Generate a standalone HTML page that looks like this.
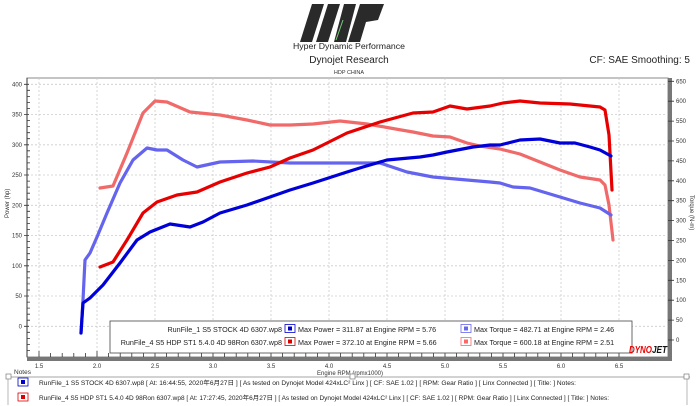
<!DOCTYPE html>
<html><head><meta charset="utf-8">
<style>
html,body{margin:0;padding:0;background:#fff;width:700px;height:406px;overflow:hidden;font-family:"Liberation Sans","Noto Sans CJK SC",sans-serif}
</style></head><body>
<svg width="700" height="406" viewBox="0 0 700 406" xmlns="http://www.w3.org/2000/svg" font-family="Liberation Sans, Noto Sans CJK SC, sans-serif">
<!-- logo -->
<g fill="#2a2a2a">
<polygon points="312,4 324,4 312,42 300,42"/>
<polygon points="328,4 340,4 328,42 316,42"/>
<polygon points="344,4 356,4 346,42 334,42"/>
<polygon points="360,4 384,4 378,20 366,22 360,42 348,42"/>
</g>
<line x1="343" y1="20" x2="336" y2="40" stroke="#7c7" stroke-width="1"/>
<text x="349" y="49" font-size="8" text-anchor="middle" fill="#222" textLength="112" lengthAdjust="spacingAndGlyphs">Hyper Dynamic Performance</text>
<text x="349" y="63" font-size="10" text-anchor="middle" fill="#222">Dynojet Research</text>
<text x="349" y="74" font-size="5.5" text-anchor="middle" fill="#333">HDP CHINA</text>
<text x="690" y="63" font-size="10" text-anchor="end" fill="#222">CF: SAE Smoothing: 5</text>

<!-- plot frame -->
<rect x="27" y="78" width="641" height="279" fill="#fff" stroke="#888" stroke-width="1"/>
<rect x="27" y="357" width="645" height="4" fill="#777"/>
<rect x="668" y="78" width="4" height="283" fill="#777"/>
<line x1="27" y1="78" x2="27" y2="357" stroke="#333" stroke-width="1"/>
<!-- grid -->
<g stroke="#ccc" stroke-width="0.8" stroke-dasharray="2,2">
<line x1="39" y1="78" x2="39" y2="357"/><line x1="97" y1="78" x2="97" y2="357"/><line x1="155" y1="78" x2="155" y2="357"/><line x1="213" y1="78" x2="213" y2="357"/><line x1="271" y1="78" x2="271" y2="357"/><line x1="329" y1="78" x2="329" y2="357"/><line x1="387" y1="78" x2="387" y2="357"/><line x1="445" y1="78" x2="445" y2="357"/><line x1="503" y1="78" x2="503" y2="357"/><line x1="561" y1="78" x2="561" y2="357"/><line x1="619" y1="78" x2="619" y2="357"/>
<line x1="27" y1="84.3" x2="668" y2="84.3"/><line x1="27" y1="114.5" x2="668" y2="114.5"/><line x1="27" y1="144.8" x2="668" y2="144.8"/><line x1="27" y1="175" x2="668" y2="175"/><line x1="27" y1="205.3" x2="668" y2="205.3"/><line x1="27" y1="235.5" x2="668" y2="235.5"/><line x1="27" y1="265.8" x2="668" y2="265.8"/><line x1="27" y1="296" x2="668" y2="296"/><line x1="27" y1="326.3" x2="668" y2="326.3"/>
</g>
<!-- left ticks -->
<g stroke="#333" stroke-width="0.8">
<path d="M24,84.3h5M24,114.5h5M24,144.8h5M24,175h5M24,205.3h5M24,235.5h5M24,265.8h5M24,296h5M24,326.3h5"/>
<path d="M27,90.3h3M27,96.4h3M27,102.4h3M27,108.5h3M27,120.6h3M27,126.6h3M27,132.7h3M27,138.7h3M27,150.8h3M27,156.9h3M27,162.9h3M27,169h3M27,181.1h3M27,187.1h3M27,193.2h3M27,199.2h3M27,211.3h3M27,217.4h3M27,223.4h3M27,229.5h3M27,241.6h3M27,247.6h3M27,253.7h3M27,259.7h3M27,271.8h3M27,277.9h3M27,283.9h3M27,290h3M27,302.1h3M27,308.1h3M27,314.2h3M27,320.2h3M27,332.3h3M27,338.4h3M27,344.4h3M27,350.5h3"/>
</g>
<g font-size="6" fill="#333" text-anchor="end">
<text x="22" y="86.3">400</text><text x="22" y="116.5">350</text><text x="22" y="146.8">300</text><text x="22" y="177">250</text><text x="22" y="207.3">200</text><text x="22" y="237.5">150</text><text x="22" y="267.8">100</text><text x="22" y="298">50</text><text x="22" y="328.3">0</text>
</g>
<text transform="translate(9,218) rotate(-90)" font-size="6" fill="#333">Power (hp)</text>
<!-- right ticks -->
<g stroke="#333" stroke-width="0.8">
<path d="M668,81.3h6M668,101.2h6M668,121.1h6M668,141h6M668,160.9h6M668,180.8h6M668,200.7h6M668,220.6h6M668,240.5h6M668,260.4h6M668,280.3h6M668,300.2h6M668,320.1h6M668,340h6"/>
</g>
<g font-size="6" fill="#333">
<text x="676" y="83.3">650</text><text x="676" y="103.2">600</text><text x="676" y="123.1">550</text><text x="676" y="143">500</text><text x="676" y="162.9">450</text><text x="676" y="182.8">400</text><text x="676" y="202.7">350</text><text x="676" y="222.6">300</text><text x="676" y="242.5">250</text><text x="676" y="262.4">200</text><text x="676" y="282.3">150</text><text x="676" y="302.2">100</text><text x="676" y="322.1">50</text><text x="676" y="342">0</text>
</g>
<text transform="translate(690,195) rotate(90)" font-size="6" fill="#333">Torque (N-m)</text>
<!-- bottom ticks -->
<g stroke="#333" stroke-width="0.8">
<path d="M39,351v6M50.6,353v4M62.2,353v4M73.8,353v4M85.4,353v4M97,351v6M108.6,353v4M120.2,353v4M131.8,353v4M143.4,353v4M155,351v6M166.6,353v4M178.2,353v4M189.8,353v4M201.4,353v4M213,351v6M224.6,353v4M236.2,353v4M247.8,353v4M259.4,353v4M271,351v6M282.6,353v4M294.2,353v4M305.8,353v4M317.4,353v4M329,351v6M340.6,353v4M352.2,353v4M363.8,353v4M375.4,353v4M387,351v6M398.6,353v4M410.2,353v4M421.8,353v4M433.4,353v4M445,351v6M456.6,353v4M468.2,353v4M479.8,353v4M491.4,353v4M503,351v6M514.6,353v4M526.2,353v4M537.8,353v4M549.4,353v4M561,351v6M572.6,353v4M584.2,353v4M595.8,353v4M607.4,353v4M619,351v6"/>
</g>
<g font-size="6" fill="#333" text-anchor="middle">
<text x="39" y="368">1.5</text><text x="97" y="368">2.0</text><text x="155" y="368">2.5</text><text x="213" y="368">3.0</text><text x="271" y="368">3.5</text><text x="329" y="368">4.0</text><text x="387" y="368">4.5</text><text x="445" y="368">5.0</text><text x="503" y="368">5.5</text><text x="561" y="368">6.0</text><text x="619" y="368">6.5</text>
</g>
<text x="350" y="375" font-size="6" fill="#333" text-anchor="middle">Engine RPM (rpmx1000)</text>

<!-- series -->
<g fill="none" stroke-width="3.2" stroke-linejoin="round" stroke-linecap="round">
<polyline stroke="#f06a6a" points="100,188 113,186 127,153 143,113 155,101 167,102 190,112 220,115 247,120 270,125 290,125 313,124 340,121 367,124 390,128 413,132 433,136 450,137 467,143 480,146 500,149 520,154 540,162 560,170 580,177 600,180 605,185 609,205 613,240"/>
<polyline stroke="#6464ee" points="81,333 83,300 85,260 90,253 97,237 107,213 120,183 133,160 147,148 157,150 167,150 183,160 197,167 220,162 253,161 290,163 347,163 380,163 407,172 433,177 467,180 490,182 500,183 513,187 530,188 560,197 580,203 600,208 611,215"/>
<polyline stroke="#e80000" points="100,267 113,262 127,240 143,213 157,202 177,195 197,192 220,182 247,173 270,167 290,158 313,150 347,133 380,122 413,113 433,112 450,106 467,109 490,106 503,103 520,101 540,103 570,104 600,107 605,110 609,135 612,190"/>
<polyline stroke="#0000d8" points="81,333 83,303 90,298 103,285 120,263 137,240 150,232 170,224 190,227 203,222 220,213 247,205 270,197 290,190 313,183 347,172 363,167 387,160 420,157 433,155 447,152 473,147 490,145 500,145 520,140 540,139 560,143 575,143 590,147 600,150 611,156"/>
</g>

<!-- legend -->
<rect x="110" y="321" width="522" height="32" fill="#fff" stroke="#444" stroke-width="0.8"/>
<g font-size="7.2" fill="#222">
<text x="282" y="332" text-anchor="end">RunFile_1 S5 STOCK 4D 6307.wp8</text>
<text x="282" y="345" text-anchor="end">RunFile_4 S5 HDP ST1 5.4.0 4D 98Ron 6307.wp8</text>
<text x="298" y="332">Max Power = 311.87 at Engine RPM = 5.76</text>
<text x="298" y="345">Max Power = 372.10 at Engine RPM = 5.66</text>
<text x="474" y="332">Max Torque = 482.71 at Engine RPM = 2.46</text>
<text x="474" y="345">Max Torque = 600.18 at Engine RPM = 2.51</text>
</g>
<rect x="285" y="324.5" width="10" height="8" fill="#fff" stroke="#00c" stroke-width="0.8"/><rect x="288" y="326.5" width="4" height="4" fill="#00c"/>
<rect x="285" y="337.5" width="10" height="8" fill="#fff" stroke="#d00" stroke-width="0.8"/><rect x="288" y="339.5" width="4" height="4" fill="#d00"/>
<rect x="461" y="324.5" width="10" height="8" fill="#fff" stroke="#66e" stroke-width="0.8"/><rect x="464" y="326.5" width="4" height="4" fill="#66e"/>
<rect x="461" y="337.5" width="10" height="8" fill="#fff" stroke="#f66" stroke-width="0.8"/><rect x="464" y="339.5" width="4" height="4" fill="#f66"/>

<!-- dynojet logo -->
<text x="629" y="353" font-size="10" font-weight="bold" font-style="italic" fill="#e00" textLength="23" lengthAdjust="spacingAndGlyphs">DYNO</text>
<text x="652" y="353" font-size="10" font-weight="bold" font-style="italic" fill="#111" textLength="15" lengthAdjust="spacingAndGlyphs">JET</text>

<!-- notes -->
<text x="14" y="374" font-size="6.5" fill="#333">Notes</text>
<line x1="9" y1="377" x2="690" y2="377" stroke="#888" stroke-width="0.8"/>
<rect x="6" y="374" width="5" height="5" fill="#fff" stroke="#666" stroke-width="0.6"/>
<rect x="350" y="374" width="5" height="5" fill="#fff" stroke="#666" stroke-width="0.6"/>
<rect x="684" y="374" width="5" height="5" fill="#fff" stroke="#666" stroke-width="0.6"/>
<line x1="8" y1="379" x2="8" y2="405" stroke="#888" stroke-width="0.6"/>
<line x1="687" y1="379" x2="687" y2="405" stroke="#888" stroke-width="0.6"/>
<rect x="18" y="378" width="10" height="8" fill="#fff" stroke="#00c" stroke-width="0.8"/><rect x="21" y="380" width="4" height="4" fill="#00c"/>
<rect x="18" y="393" width="10" height="8" fill="#fff" stroke="#d00" stroke-width="0.8"/><rect x="21" y="395" width="4" height="4" fill="#d00"/>
<g font-size="6.2" fill="#222">
<text x="39" y="385" textLength="537" lengthAdjust="spacingAndGlyphs">RunFile_1 S5 STOCK 4D 6307.wp8 [ At: 16:44:55, 2020年6月27日 ] [ As tested on Dynojet Model 424xLC² Linx ] [ CF: SAE 1.02 ] [ RPM: Gear Ratio ] [ Linx Connected ] [ Title: ] Notes:</text>
<text x="39" y="400" textLength="570" lengthAdjust="spacingAndGlyphs">RunFile_4 S5 HDP ST1 5.4.0 4D 98Ron 6307.wp8 [ At: 17:27:45, 2020年6月27日 ] [ As tested on Dynojet Model 424xLC² Linx ] [ CF: SAE 1.02 ] [ RPM: Gear Ratio ] [ Linx Connected ] [ Title: ] Notes:</text>
</g>
</svg>
</body></html>
